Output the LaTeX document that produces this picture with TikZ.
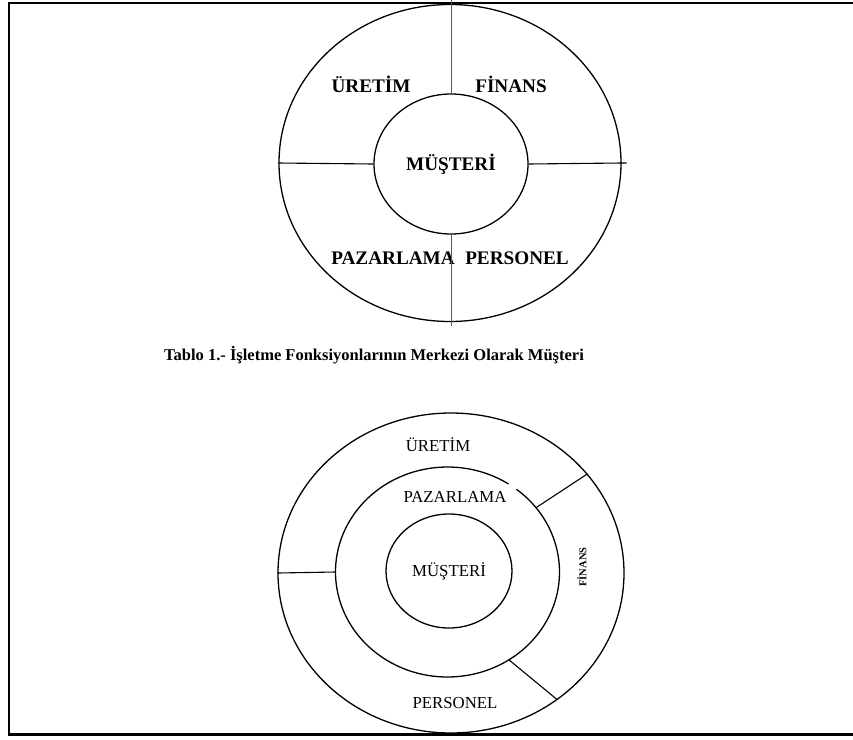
\documentclass[tikz,border=0pt]{standalone}
\usepackage{fontspec}
\setmainfont{Liberation Serif}
\usetikzlibrary{shapes.geometric}

\begin{document}
\begin{tikzpicture}[x=1pt,y=1pt,ring/.style={draw,ellipse,line width=1.3pt,inner sep=0pt},part/.style={line width=1.1pt},boldname/.style={font=\fontsize{19.2}{21}\selectfont\bfseries},plainname/.style={font=\fontsize{16.8}{18}\selectfont}]
	\useasboundingbox (0,0) rectangle (853,-739);
	\draw[line width=2.6pt] (853,-3) -- (9,-3) -- (9,-734.5) -- (853,-734.5);

	% upper figure
	\node[ring,minimum width=342,minimum height=317]	(outerTop)	at (450,-163)	{};
	\node[ring,minimum width=154,minimum height=140,boldname]	(coreTop)	at (451,-164)	{MÜŞTERİ};
	\node[boldname]	(uretimTop)		at (371,-84)	{ÜRETİM};
	\node[boldname]	(finansTop)		at (511,-84)	{FİNANS};
	\node[boldname]	(pazarTop)		at (393,-258)	{PAZARLAMA};
	\node[boldname]	(personelTop)	at (517,-258)	{PERSONEL};

	\draw[gray!70!black,line width=1pt,shorten >=-5pt] (coreTop.north) -- (coreTop.north |- outerTop.north);
	\draw[gray!70!black,line width=1pt,shorten >=-4pt] (coreTop.south) -- (coreTop.south |- outerTop.south);
	\draw[part] (outerTop.west) -- (coreTop.west);
	\draw[part,shorten >=-5pt] (coreTop.east) -- (outerTop.east);

	\node[font=\fontsize{16.5}{18}\selectfont\bfseries]	(caption)	at (374,-355)	{Tablo 1.- İşletme Fonksiyonlarının Merkezi Olarak Müşteri};

	% lower figure
	\node[ring,minimum width=346,minimum height=320]	(outerBot)	at (451,-573)	{};
	\node[ellipse,inner sep=0pt,minimum width=224,minimum height=210]	(midBot)	at (447.5,-572)	{};
	\node[ring,minimum width=126,minimum height=114,plainname]	(coreBot)	at (449,-571)	{MÜŞTERİ};
	\path (midBot.center) ++(57:112 and 105) coordinate (gapEnd);
	\draw[line width=1.3pt] (gapEnd) arc[start angle=57,delta angle=355,x radius=112,y radius=105];

	\node[plainname]	(uretimBot)		at (438,-445)	{ÜRETİM};
	\node[plainname]	(pazarBot)		at (455,-497)	{PAZARLAMA};
	\node[plainname]	(personelBot)	at (455,-703)	{PERSONEL};
	\node[font=\fontsize{10.5}{12}\selectfont\bfseries,rotate=90]	(finansBot)	at (582,-567)	{FİNANS};

	\draw[part] (outerBot.west) -- (midBot.west);
	\draw[part] (midBot.36) -- (outerBot.36);
	\draw[part] (midBot.-55) -- (outerBot.-50);
\end{tikzpicture}
\end{document}
